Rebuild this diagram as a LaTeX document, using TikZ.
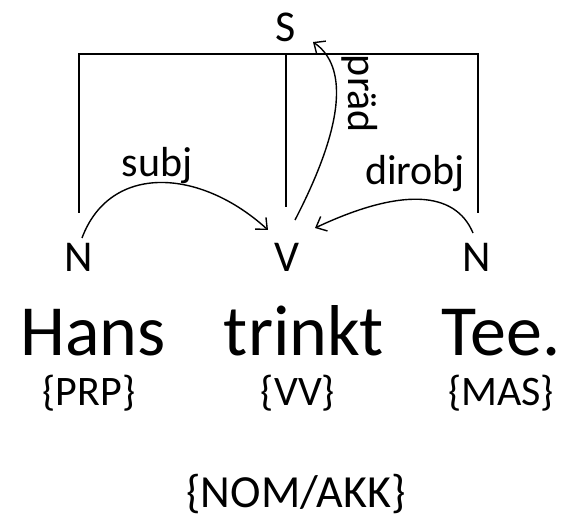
\documentclass[tikz,border=0pt]{standalone}
\usepackage{fontspec}
\setmainfont{Carlito}
\usetikzlibrary{arrows.meta}
\tikzset{
  lbl/.style={inner sep=0pt, anchor=base, font=\fontsize{44}{50}\selectfont},
  word/.style={inner sep=0pt, anchor=base, font=\fontsize{72}{80}\selectfont},
  tag/.style={inner sep=0pt, anchor=base, font=\fontsize{42}{48}\selectfont},
  elbl/.style={inner sep=0pt, font=\fontsize{42}{48}\selectfont},
  brk/.style={line width=1.4pt},
  dep/.style={line width=1.4pt, -{Straight Barb[length=9pt,width=16pt,line width=1.4pt]}}
}
\begin{document}
\begin{tikzpicture}[x=1pt,y=-1pt]
\useasboundingbox (0,0) rectangle (571,524);
% category labels
\node[lbl] (S) at (286,42) {S};
\node[lbl] (N1) at (79,272) {N};
\node[lbl] (V) at (287,272) {V};
\node[lbl] (N2) at (477,272) {N};
% words
\node[word] (hans) at (93,355) {Hans};
\node[word] (trinkt) at (304,355) {trinkt};
\node[word] (tee) at (501,355) {Tee.};
% tags
\node[tag] (prp) at (89,405) {\{PRP\}};
\node[tag] (vv) at (298,405) {\{VV\}};
\node[tag] (mas) at (501,405) {\{MAS\}};
\node[tag, font=\fontsize{46}{52}\selectfont] (nomakk) at (296,507) {\{NOM/AKK\}};
% bracket
\coordinate (bl) at (79,54);
\coordinate (br) at (478,54);
\coordinate (bm) at (286,54);
\coordinate (n1t) at (79,213);
\coordinate (vt) at (286,207);
\coordinate (n2t) at (478,213);
\draw[brk] (n1t) -- (bl) -- (br) -- (n2t);
\draw[brk] (bm) -- (vt);
% dependency arcs
\coordinate (subjS) at (82,238);
\coordinate (subjE) at (268,230);
\coordinate (dirS) at (473,233);
\coordinate (dirE) at (315,228);
\coordinate (pradS) at (295,220);
\coordinate (pradE) at (313,42);
\draw[dep] (subjS) .. controls (110,163) and (200,168) .. (subjE);
\draw[dep] (dirS) .. controls (455,190) and (400,188) .. (dirE);
\draw[dep] (pradS) .. controls (352,110) and (342,62) .. (pradE);
% arc labels
\node[elbl, anchor=base] (subj) at (157,177) {subj};
\node[elbl, anchor=base] (dirobj) at (415,185) {dirobj};
\node[elbl, rotate=-90] (prad) at (360,94) {präd};
\end{tikzpicture}
\end{document}
